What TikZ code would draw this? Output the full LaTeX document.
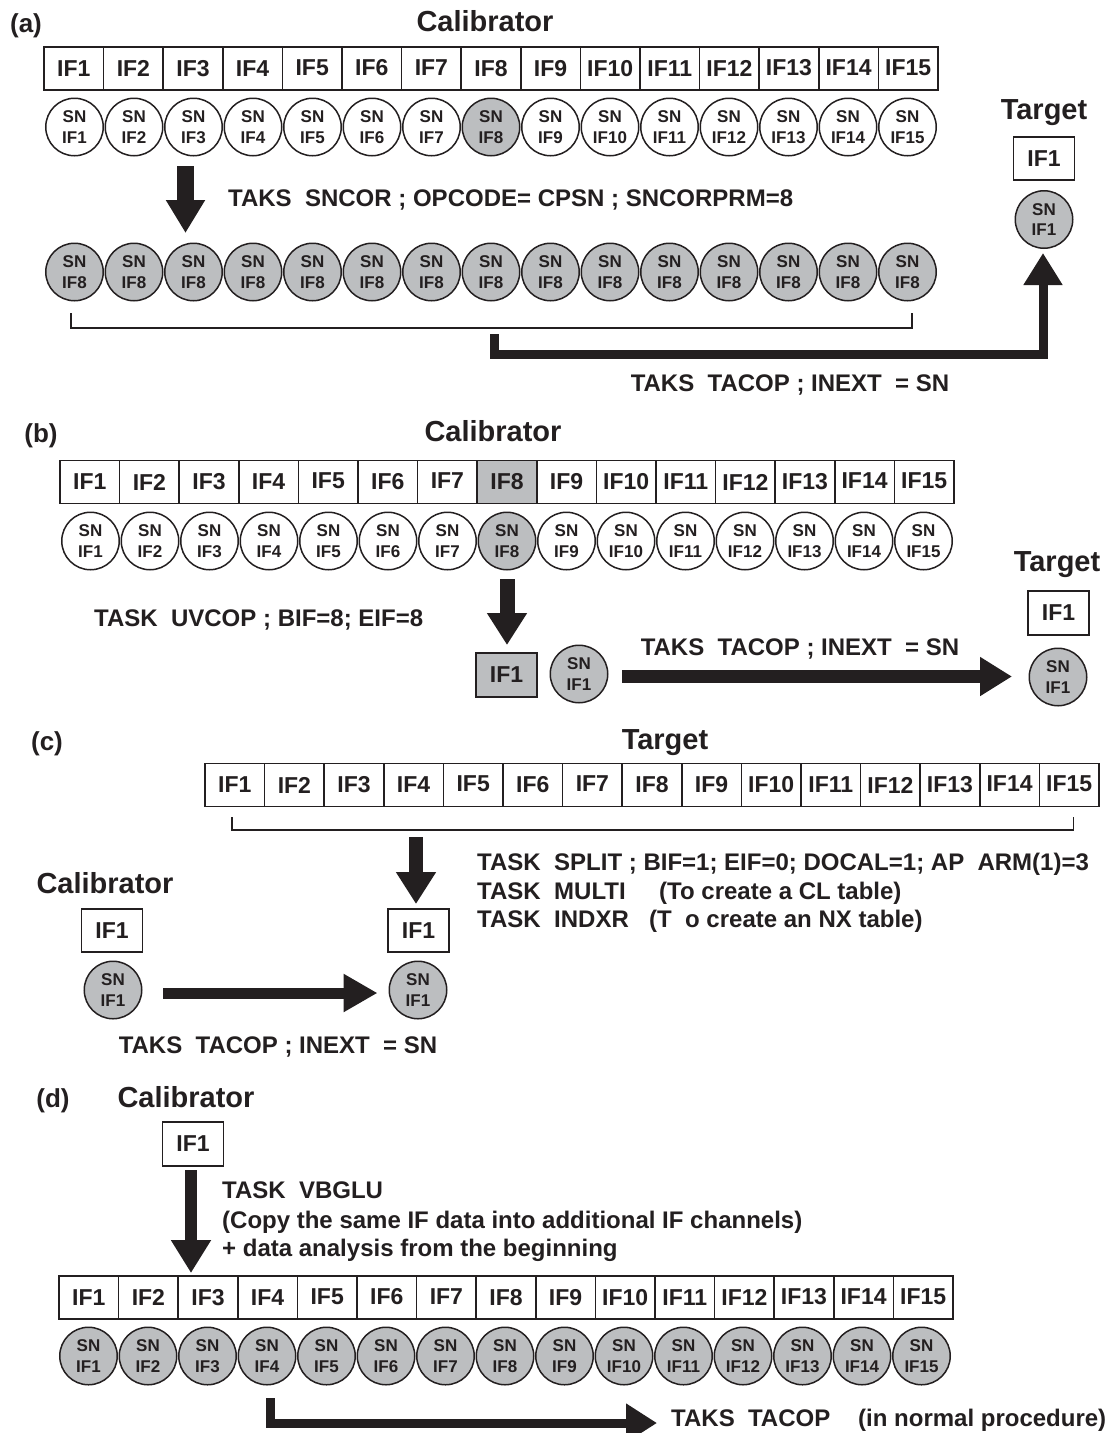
\documentclass[tikz,border=0pt]{standalone}
\usepackage{fontspec}
\setmainfont{Liberation Sans}
\usetikzlibrary{arrows.meta,calc}
\definecolor{ink}{RGB}{35,31,32}
\definecolor{fillg}{RGB}{188,190,192}

\newcommand\IFrow[4]{%
  \foreach \i in {1,...,15}{%
    \ifnum\i=#4 \def\cfill{fillg}\else\def\cfill{white}\fi
    \def\rs{0pt}%
    \ifnum\i=5 \def\rs{2pt}\fi \ifnum\i=6 \def\rs{2pt}\fi \ifnum\i=7 \def\rs{2pt}\fi
    \ifnum\i=13 \def\rs{2pt}\fi \ifnum\i=14 \def\rs{2pt}\fi \ifnum\i=15 \def\rs{2pt}\fi
    \pgfmathsetmacro\cx{#2+59.6*(\i-0.5)}
    \node[cell,fill=\cfill] (#1\i) at (\cx,#3) {\raisebox{\rs}{IF\i}};
  }}
\newcommand\SNrow[5]{%
  \foreach \i in {1,...,15}{%
    \ifnum#4=99 \def\cfill{fillg}\else\ifnum\i=#4 \def\cfill{fillg}\else\def\cfill{white}\fi\fi
    \pgfmathsetmacro\cx{#2+59.5*(\i-1)}
    \node[sn,fill=\cfill] (#1\i) at (\cx,#3) {SN\\IF#5};
  }}

\begin{document}
\begin{tikzpicture}[x=1pt,y=-1pt,
  every node/.style={text=ink},
  cell/.style={draw=ink,line width=1.6pt,rectangle,minimum width=59.6pt,minimum height=43pt,inner sep=0pt,font=\fontsize{23}{26}\selectfont\bfseries},
  sn/.style={draw=ink,line width=1.5pt,circle,minimum size=57.5pt,inner sep=0pt,align=center,font=\fontsize{17}{20.5}\selectfont\bfseries},
  onebox/.style={cell,minimum width=61pt,minimum height=43.5pt},
  ttl/.style={font=\fontsize{29}{33}\selectfont\bfseries,anchor=base,inner sep=0pt},
  plbl/.style={font=\fontsize{26}{30}\selectfont\bfseries,anchor=base,inner sep=0pt},
  task/.style={font=\fontsize{24}{28}\selectfont\bfseries,anchor=base west,inner sep=0pt},
  taskc/.style={font=\fontsize{24}{28}\selectfont\bfseries,anchor=base,inner sep=0pt},
  fat/.style={draw=ink,line width=#1,-{Triangle[length=33pt,width=37pt]}},
  brk/.style={draw=ink,line width=1.6pt},
]
\useasboundingbox (0,0) rectangle (1112,1433);
\fill[white] (0,0) rectangle (1112,1433);

%% ---------------- (a)
\node[plbl] (la) at (26,32) {(a)};
\node[ttl] (a-cal) at (485,31) {Calibrator};
\IFrow{a-c}{44}{68.5}{0}
\SNrow{a-s}{74.5}{127}{8}{\i}
\coordinate (a-d1) at (185.5,166);
\coordinate (a-d2) at (185.5,233);
\draw[fat=17pt] (a-d1) -- (a-d2);
\node[task] (a-task) at (228,206) {TAKS\ \ SNCOR ; OPCODE= CPSN ; SNCORPRM=8};
\SNrow{a-t}{74.5}{272}{99}{8}
\coordinate (a-b1) at (71,313);
\coordinate (a-b2) at (912,313);
\draw[brk] (a-b1) -- (71,328) -- (912,328) -- (a-b2);
\node[ttl] (a-tgt) at (1044,119) {Target};
\node[onebox] (a-tbox) at (1044,158.5) {IF1};
\node[sn,fill=fillg] (a-tsn) at (1044,219.5) {SN\\IF1};
\coordinate (a-p1) at (494.5,334);
\coordinate (a-p2) at (1043,253);
\draw[fat=9pt,line join=miter,-{Triangle[length=32pt,width=37pt]}] (a-p1) -- (494.5,354.5) -- (1043,354.5) -- (a-p2);
\node[taskc] (a-tac) at (790,391.5) {TAKS\ \ TACOP ; INEXT\ \ = SN};

%% ---------------- (b)
\node[plbl] (lb) at (41,442) {(b)};
\node[ttl] (b-cal) at (493,441) {Calibrator};
\IFrow{b-c}{60}{482}{8}
\SNrow{b-s}{90.5}{541}{8}{\i}
\node[task] (b-task) at (94,626.5) {TASK\ \ UVCOP ; BIF=8; EIF=8};
\coordinate (b-d1) at (507,579);
\coordinate (b-d2) at (507,645);
\draw[fat=15pt,-{Triangle[length=32pt,width=38pt]}] (b-d1) -- (b-d2);
\node[onebox,fill=fillg,minimum height=44pt] (b-box) at (506.5,675) {IF1};
\node[sn,fill=fillg] (b-sn) at (579,674) {SN\\IF1};
\coordinate (b-h1) at (622,676.5);
\coordinate (b-h2) at (1012,676.5);
\draw[fat=13pt,-{Triangle[length=32pt,width=37pt]}] (b-h1) -- (b-h2);
\node[taskc] (b-tac) at (800,655.5) {TAKS\ \ TACOP ; INEXT\ \ = SN};
\node[ttl] (b-tgt) at (1057,571) {Target};
\node[onebox] (b-tbox) at (1058.5,613) {IF1};
\node[sn,fill=fillg] (b-tsn) at (1058,677) {SN\\IF1};

%% ---------------- (c)
\node[plbl] (lc) at (47,750) {(c)};
\node[ttl] (c-tgt) at (665,749) {Target};
\IFrow{c-c}{205}{785}{0}
\coordinate (c-b1) at (232,817);
\coordinate (c-b2) at (1073.5,817);
\draw[brk] (c-b1) -- (232,830) -- (1073.5,830) -- (c-b2);
\coordinate (c-d1) at (416,837);
\coordinate (c-d2) at (416,904);
\draw[fat=14pt,-{Triangle[length=32pt,width=38pt]}] (c-d1) -- (c-d2);
\node[task] (c-t1) at (477,870.5) {\makebox[77pt][l]{TASK}SPLIT ; BIF=1; EIF=0; DOCAL=1; AP\ \ ARM(1)=3};
\node[task] (c-t2) at (477,899.5) {\makebox[77pt][l]{TASK}\makebox[105pt][l]{MULTI}(To create a CL table)};
\node[task] (c-t3) at (477,927.5) {\makebox[77pt][l]{TASK}\makebox[95pt][l]{INDXR}(T\ \ o create an NX table)};
\node[ttl] (c-cal) at (105,893.5) {Calibrator};
\node[onebox] (c-cbox) at (112,930.5) {IF1};
\node[sn,fill=fillg] (c-csn) at (113,990) {SN\\IF1};
\node[onebox] (c-tbox) at (418.5,930.5) {IF1};
\node[sn,fill=fillg] (c-tsn) at (418,990) {SN\\IF1};
\coordinate (c-h1) at (163,993);
\coordinate (c-h2) at (377.5,993);
\draw[fat=11pt,-{Triangle[length=34pt,width=36pt]}] (c-h1) -- (c-h2);
\node[taskc] (c-tac) at (278,1053.5) {TAKS\ \ TACOP ; INEXT\ \ = SN};

%% ---------------- (d)
\node[plbl] (ld) at (53,1107) {(d)};
\node[ttl] (d-cal) at (186,1107) {Calibrator};
\node[onebox,minimum height=44pt] (d-box) at (193,1144) {IF1};
\coordinate (d-d1) at (191,1170);
\coordinate (d-d2) at (191,1273);
\draw[fat=12pt,-{Triangle[length=33pt,width=38pt]}] (d-d1) -- (d-d2);
\node[task] (d-t1) at (222,1198.5) {TASK\ \ VBGLU};
\node[task] (d-t2) at (222,1228.5) {(Copy the same IF data into additional IF channels)};
\node[task] (d-t3) at (222,1256.5) {+ data analysis from the beginning};
\IFrow{d-c}{59}{1297.5}{0}
\SNrow{d-s}{88.5}{1356}{99}{\i}
\coordinate (d-p1) at (270.5,1398);
\coordinate (d-p2) at (657,1423);
\draw[fat=9pt,line join=miter,-{Triangle[length=31pt,width=37pt]}] (d-p1) -- (270.5,1423) -- (d-p2);
\node[task] (d-tac) at (671,1426.5) {\makebox[187pt][l]{TAKS\ \ TACOP}(in normal procedure)};
\end{tikzpicture}
\end{document}
